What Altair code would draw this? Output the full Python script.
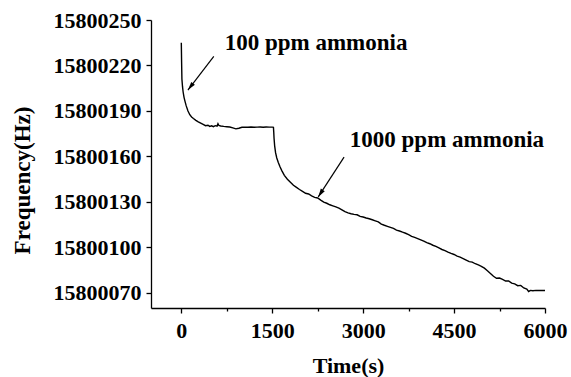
import altair as alt
import pandas as pd

# ---- data ----
time_s = [0, 5, 10, 20, 30, 45, 60, 80, 110, 140, 170, 200, 240, 280, 320, 360, 400, 440, 470, 500,
          530, 560, 590, 605, 620, 650, 700, 750, 800, 850, 900, 950, 1000, 1050, 1100, 1150, 1200,
          1250, 1300, 1350, 1400, 1450, 1500, 1520, 1525, 1530, 1540, 1555, 1575, 1600, 1630, 1660,
          1700, 1750, 1800, 1850, 1900, 1950, 2000, 2050, 2100, 2150, 2200, 2250, 2300, 2350, 2400,
          2450, 2500, 2550, 2600, 2650, 2700, 2750, 2800, 2850, 2900, 2950, 3000, 3050, 3100, 3150,
          3200, 3250, 3300, 3350, 3400, 3450, 3500, 3550, 3600, 3650, 3700, 3750, 3800, 3850, 3900,
          3950, 4000, 4050, 4100, 4150, 4200, 4250, 4300, 4350, 4400, 4450, 4500, 4550, 4600, 4650,
          4700, 4750, 4800, 4850, 4900, 4950, 5000, 5050, 5100, 5150, 5200, 5250, 5300, 5350, 5400,
          5450, 5500, 5550, 5600, 5650, 5700, 5730, 5760, 5800, 5850, 5900, 5950, 6000]
freq_hz = [15800235.0, 15800222.0, 15800211.0, 15800206.0, 15800202.5, 15800199.0, 15800196.5,
           15800193.5, 15800190.0, 15800187.5, 15800186.0, 15800185.0, 15800183.8, 15800182.8,
           15800182.0, 15800181.2, 15800180.3, 15800180.6, 15800179.8, 15800180.2, 15800179.6,
           15800180.3, 15800180.0, 15800181.6, 15800180.4, 15800180.1, 15800179.8, 15800179.6,
           15800179.4, 15800178.8, 15800178.2, 15800178.6, 15800179.2, 15800179.3, 15800179.2,
           15800179.4, 15800179.2, 15800179.3, 15800179.4, 15800179.2, 15800179.4, 15800179.3,
           15800179.3, 15800179.2, 15800176.0, 15800172.0, 15800167.0, 15800162.5, 15800159.0,
           15800156.0, 15800153.0, 15800150.5, 15800147.5, 15800145.0, 15800143.0, 15800141.0,
           15800139.6, 15800138.2, 15800136.9, 15800135.7, 15800135.2, 15800134.0, 15800133.0,
           15800132.6, 15800131.2, 15800129.9, 15800129.1, 15800128.1, 15800127.4, 15800126.7,
           15800125.9, 15800124.8, 15800123.6, 15800122.7, 15800122.2, 15800121.8, 15800121.5,
           15800120.4, 15800120.0, 15800119.4, 15800118.9, 15800118.2, 15800117.5, 15800116.8,
           15800115.4, 15800114.6, 15800113.9, 15800113.2, 15800112.5, 15800111.4, 15800110.8,
           15800110.0, 15800109.3, 15800108.4, 15800107.3, 15800106.6, 15800105.8, 15800105.0,
           15800104.1, 15800103.1, 15800102.4, 15800101.4, 15800100.6, 15800099.6, 15800098.6,
           15800097.9, 15800096.9, 15800096.0, 15800095.3, 15800094.2, 15800093.6, 15800092.6,
           15800091.6, 15800090.6, 15800090.3, 15800089.2, 15800088.4, 15800087.5, 15800086.3,
           15800084.6, 15800082.8, 15800080.9, 15800079.6, 15800079.8, 15800078.9, 15800077.8,
           15800077.9, 15800076.4, 15800075.9, 15800074.7, 15800074.9, 15800073.2, 15800072.5,
           15800070.9, 15800071.6, 15800071.4, 15800071.6, 15800071.5, 15800071.6, 15800071.5]

x_ticks = [0, 750, 1500, 2250, 3000, 3750, 4500, 5250, 6000]
y_ticks = [15800070, 15800085, 15800100, 15800115, 15800130, 15800145, 15800160, 15800175,
           15800190, 15800205, 15800220, 15800235, 15800250]

ann_text = ["100 ppm ammonia", "1000 ppm ammonia"]
ann_t = [715, 2780]
ann_v = [15800230.2, 15800166.5]

arrow_t0 = [536, 2685]
arrow_v0 = [15800226.0, 15800159.5]
arrow_t1 = [109, 2259]
arrow_v1 = [15800203.8, 15800133.3]
arrow_angle = [218, 213]

FONT = "Liberation Serif"

df = pd.DataFrame({"t": time_s, "f": freq_hz})
ann = pd.DataFrame({"text": ann_text, "t": ann_t, "v": ann_v})
arr = pd.DataFrame({"t0": arrow_t0, "v0": arrow_v0, "t1": arrow_t1, "v1": arrow_v1,
                    "angle": arrow_angle})

xscale = alt.Scale(domain=[-500, 6000], nice=False, zero=False)
yscale = alt.Scale(domain=[15800060, 15800250], nice=False, zero=False)

x_axis = alt.Axis(values=x_ticks, title="Time(s)",
                  labelExpr="datum.value % 1500 == 0 ? datum.label : ''",
                  tickSize={"condition": {"test": "datum.value % 1500 == 0", "value": 5}, "value": 3},
                  format="d", grid=False, labelPadding=7, titlePadding=14,
                  labelFlush=False, labelOverlap=False)
y_axis = alt.Axis(values=y_ticks, title="Frequency(Hz)",
                  labelExpr="datum.value % 30 == 0 ? datum.label : ''",
                  tickSize={"condition": {"test": "datum.value % 30 == 0", "value": 5}, "value": 3},
                  format="d", grid=False, labelPadding=5, titlePadding=19, titleY=160,
                  titleFontSize=23,
                  labelFlush=False, labelOverlap=False)

line = alt.Chart(df).mark_line(color="black", strokeWidth=1.4).encode(
    x=alt.X("t:Q", scale=xscale, axis=x_axis),
    y=alt.Y("f:Q", scale=yscale, axis=y_axis),
)

texts = alt.Chart(ann).mark_text(align="left", baseline="alphabetic", font=FONT,
                                 fontWeight="bold", fontSize=23, color="black").encode(
    x=alt.X("t:Q", scale=xscale), y=alt.Y("v:Q", scale=yscale), text="text:N")

shafts = alt.Chart(arr).mark_rule(color="black", strokeWidth=1.2).encode(
    x=alt.X("t0:Q", scale=xscale), y=alt.Y("v0:Q", scale=yscale),
    x2="t1:Q", y2="v1:Q")

heads = alt.Chart(arr).mark_point(shape="M0,0L0.55,2L-0.55,2Z", filled=True, color="black",
                                  opacity=1, size=70).encode(
    x=alt.X("t1:Q", scale=xscale), y=alt.Y("v1:Q", scale=yscale),
    angle=alt.Angle("angle:Q", scale=None))

chart = alt.layer(line, shafts, heads, texts).properties(
    width=394, height=288,
    autosize="none",
    padding={"left": 151, "top": 20, "right": 26, "bottom": 69},
    background="white",
).configure_view(stroke=None).configure_axis(
    labelFont=FONT, titleFont=FONT, labelFontSize=22, titleFontSize=22,
    labelFontWeight="bold", titleFontWeight="bold", labelColor="black", titleColor="black",
    domainColor="black", tickColor="black", domainWidth=1.3, tickWidth=1.3,
)

chart.save("out.html", embed_options={"renderer": "svg", "actions": False})
